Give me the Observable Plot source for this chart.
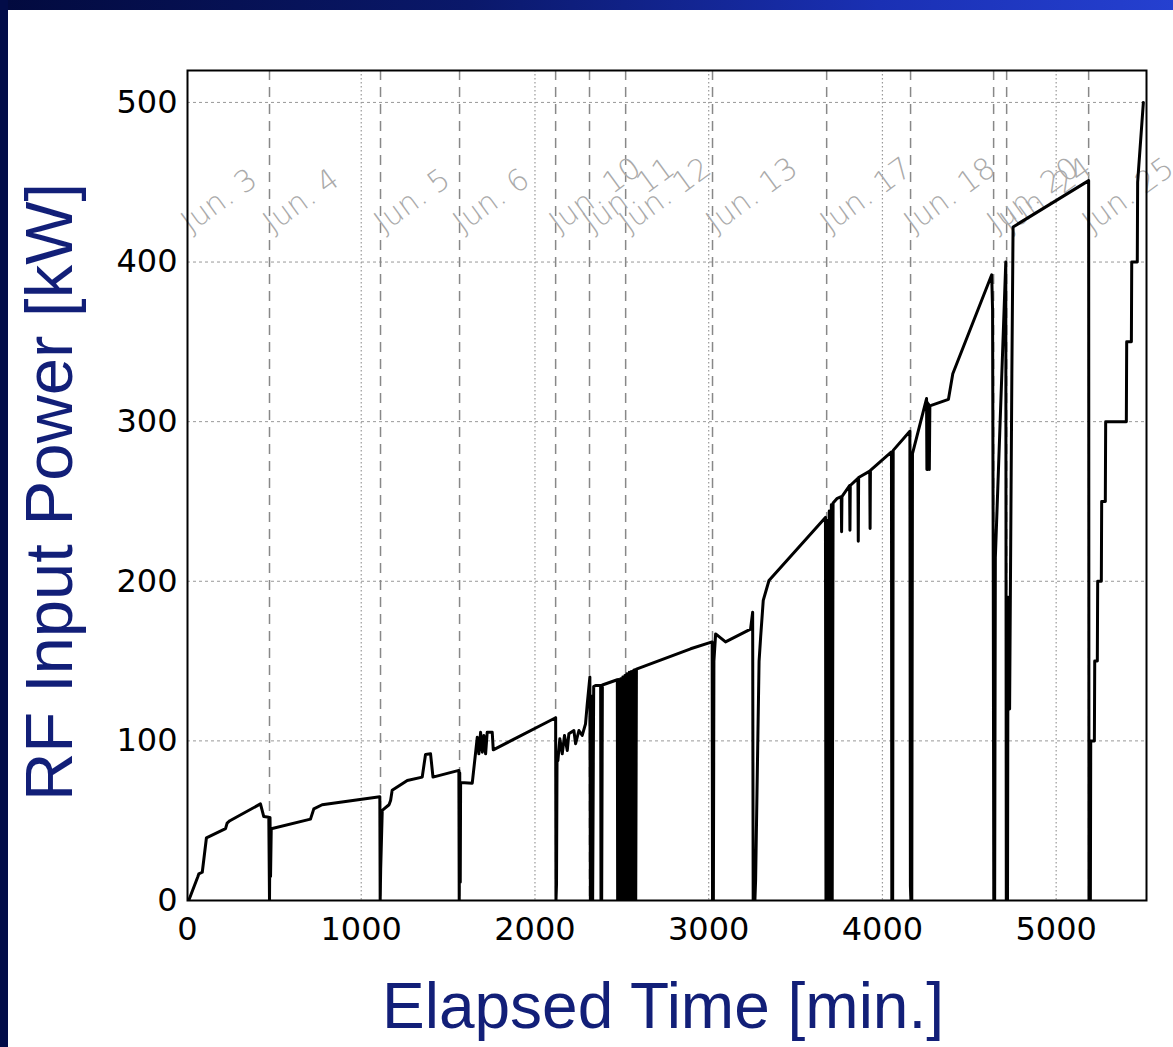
<!DOCTYPE html>
<html><head><meta charset="utf-8">
<script src="https://cdn.jsdelivr.net/npm/d3@7"></script>
<script src="https://cdn.jsdelivr.net/npm/@observablehq/plot@0.6"></script>
<style>
html,body{margin:0;padding:0;background:#fff;overflow:hidden;}
#page{position:relative;width:1173px;height:1047px;background:#fff;overflow:hidden;}
#leftbar{position:absolute;left:0;top:0;width:8px;height:1047px;background:#020c48;z-index:3}
#topbar{position:absolute;left:0;top:0;width:1173px;height:10px;background:linear-gradient(to right,#020a3e 0%,#0a186a 40%,#1a30b4 75%,#2540d0 100%);z-index:3}
#chart{position:absolute;left:0;top:0}
.ylab{position:absolute;left:48px;top:492px;transform:translate(-50%,-50%) rotate(-90deg);font-family:"Liberation Sans",Arial,sans-serif;font-size:67px;line-height:1;color:#121f78;white-space:nowrap}
.xlab{position:absolute;left:663px;top:974px;transform:translateX(-50%);font-family:"Liberation Sans",Arial,sans-serif;font-size:64px;line-height:1;color:#121f78;white-space:nowrap}
</style>
</head><body>
<div id="page">
  <div id="chart"></div>
  <div id="topbar"></div>
  <div id="leftbar"></div>
  <div class="ylab">RF Input Power [kW]</div>
  <div class="xlab">Elapsed Time [min.]</div>
</div>
<script>
const time = [0,7,60,65,85,109,219,228,244,420,439,468,472,475,478,482,708,727,775,1107,1109,1112,1121,1160,1169,1178,1265,1351,1370,1399,1413,1562,1564,1567,1570,1572,1639,1668,1677,1687,1697,1706,1716,1725,1754,1760,2119,2121,2124,2127,2132,2143,2157,2170,2186,2195,2224,2234,2253,2272,2291,2301,2316,2319,2324,2328,2332,2338,2349,2378,2380,2384,2388,2474,2476,2482,2488,2494,2500,2506,2512,2518,2524,2530,2537,2543,2549,2555,2561,2567,2572,2575,2580,2584,2896,3020,3022,3027,3030,3040,3097,3241,3253,3256,3266,3270,3290,3299,3314,3347,3672,3675,3682,3687,3694,3699,3706,3711,3716,3740,3763,3765,3767,3811,3813,3815,3859,3861,3863,3927,3929,3931,4052,4054,4059,4062,4158,4161,4164,4169,4173,4254,4256,4259,4262,4265,4270,4273,4277,4380,4405,4629,4634,4638,4641,4646,4650,4710,4713,4720,4723,4726,4732,4745,4752,5187,5189,5197,5199,5220,5222,5237,5239,5260,5262,5283,5285,5404,5406,5433,5435,5467,5469,5502];
const power = [0,0,15,16.7,17.7,39.3,45,48.5,50,60.5,52.6,52.2,0,52,15,45,51,57.4,60,65,0,20,56.4,60,62.7,69,75.2,77.3,91.5,91.9,77.3,81.5,0,80,11.5,74,73.5,102.3,91.9,105.4,92.9,103.3,91.9,105.4,105.4,94.4,114.5,0,10,88,87.7,101.3,91.9,103.4,94,104.4,106.5,98.2,106.5,103.4,110.7,123.2,140,0,0,128,0,134,134.7,134.7,0,0,135,138.3,0,138.5,0,139,0,140,0,141,0,142,0,143,0,143.5,0,144,144.5,0,0,145,157.7,162,0,0,150,167,162,170,180.6,0,0,12.5,150,165,188,200.5,240,0,238,0,244,0,248,0,249,252,253,231,253,260,232,260,264.5,225,265,269,233,269.5,281,0,0,282,294,9,0,0,280,314.5,270,312,270,311,270,310,310,314,330,392,370,200,0,0,215,400,0,0,190,120,120,330,422,451,0,0,100,100,150,150,200,200,250,250,300,300,350,350,400,400,450,500];
const eventTimes = [0,472,1111,1566,2119,2314,2522,3022,3679,4162,4640,4715,5187];
const eventLabels = ["Jun. 3","Jun. 4","Jun. 5","Jun. 6","Jun. 10","Jun. 11","Jun. 12","Jun. 13","Jun. 17","Jun. 18","Jun. 20","Jun. 24","Jun. 25"];
const xTicks = [0,1000,2000,3000,4000,5000];
const yTicks = [0,100,200,300,400,500];

const data = time.map((t, i) => ({t, p: power[i]}));
const events = eventTimes.map((t, i) => ({t, label: eventLabels[i]}));

const chart = Plot.plot({
  width: 1173, height: 1047,
  marginLeft: 187, marginRight: 27, marginTop: 70, marginBottom: 147,
  style: {background: "transparent", fontFamily: "'DejaVu Sans', sans-serif", fontSize: "32px", color: "#000"},
  x: {domain: [0, 5520], ticks: xTicks, tickSize: 0, tickPadding: 17, tickFormat: d => String(d), label: null},
  y: {domain: [0, 520], ticks: yTicks, tickSize: 0, tickPadding: 10, tickFormat: d => String(d), label: null},
  marks: [
    Plot.ruleY(yTicks.filter(v => v > 0), {stroke: "#999", strokeDasharray: "3,3", strokeWidth: 1}),
    Plot.ruleX(xTicks.filter(v => v > 0), {stroke: "#999", strokeDasharray: "1.5,2.5", strokeWidth: 1.2}),
    Plot.ruleX(events.filter(d => d.t > 0), {x: "t", stroke: "#888", strokeDasharray: "10,7", strokeWidth: 1.5}),
    Plot.text(events, {x: "t", text: "label", frameAnchor: "top", dy: 163, dx: 3, rotate: -36, textAnchor: "start", lineAnchor: "bottom", fill: "#aaaaaa", fontSize: 30, fontFamily: "'DejaVu Sans', sans-serif", fontWeight: 200}),
    Plot.line(data, {x: "t", y: "p", stroke: "#000", strokeWidth: 3, strokeLinejoin: "round", clip: true}),
    Plot.frame({stroke: "#000", strokeWidth: 2})
  ]
});
document.getElementById("chart").appendChild(chart);
</script>
</body></html>
